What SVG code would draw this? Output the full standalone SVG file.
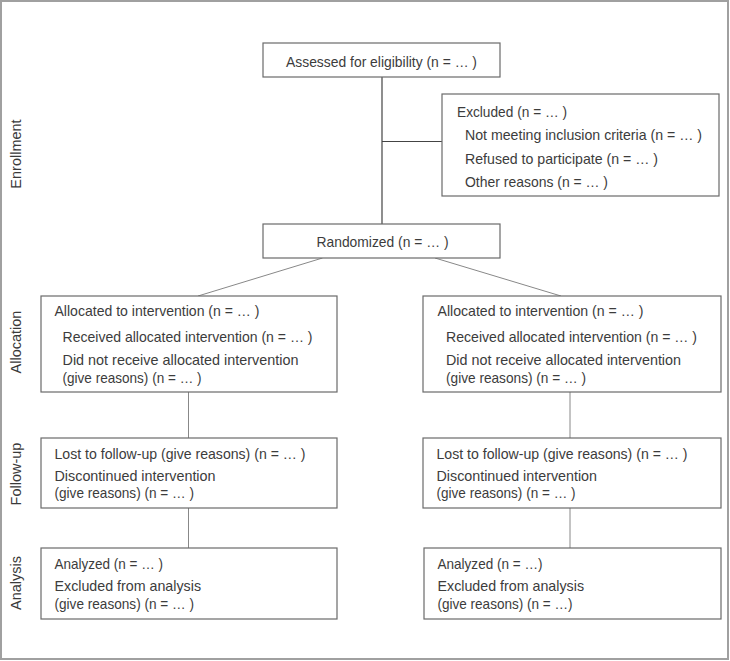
<svg xmlns="http://www.w3.org/2000/svg" width="730" height="661" viewBox="0 0 730 661">
<style>
.bg{fill:#ffffff}
.frame{fill:none;stroke:#a0a0a0;stroke-width:2}
.box{fill:#ffffff;stroke:#6a6a6a;stroke-width:1.2}
.t{font-family:"Liberation Sans",Arial,sans-serif;font-size:15px;fill:#3c3c3c}
.lab{font-family:"Liberation Sans",Arial,sans-serif;font-size:14.5px;fill:#3a3a3a;text-anchor:middle}
.c{fill:none;stroke:#444;stroke-width:1.2}
.c2{fill:none;stroke:#888;stroke-width:1}
</style>
<rect class="bg" x="0" y="0" width="730" height="661"/>
<rect class="frame" x="1" y="1" width="727" height="658"/>

<g id="stage-labels">
<text class="lab" transform="translate(21,154) rotate(-90)">Enrollment</text>
<text class="lab" transform="translate(21,342) rotate(-90)">Allocation</text>
<text class="lab" transform="translate(21,474) rotate(-90)">Follow-up</text>
<text class="lab" transform="translate(21,583) rotate(-90)">Analysis</text>
</g>

<g id="connectors">
<line class="c" x1="382" y1="77" x2="382" y2="224"/>
<line class="c" x1="382" y1="141.5" x2="442" y2="141.5"/>
<line class="c2" x1="322.5" y1="258" x2="198" y2="296"/>
<line class="c2" x1="435" y1="258" x2="561" y2="296"/>
<line class="c2" x1="188.5" y1="392" x2="188.5" y2="438"/>
<line class="c2" x1="570" y1="392" x2="570" y2="438"/>
<line class="c2" x1="188.5" y1="508" x2="188.5" y2="548"/>
<line class="c2" x1="570" y1="508" x2="570" y2="548"/>
</g>

<g id="assessed">
<rect class="box" x="263" y="43" width="237" height="34"/>
<text class="t" x="286" y="66.5" textLength="191" lengthAdjust="spacingAndGlyphs">Assessed for eligibility (n = … )</text>
</g>

<g id="excluded">
<rect class="box" x="442" y="94" width="277" height="102"/>
<text class="t" x="457" y="116.5" textLength="110" lengthAdjust="spacingAndGlyphs">Excluded (n = … )</text>
<text class="t" x="465" y="140" textLength="237" lengthAdjust="spacingAndGlyphs">Not meeting inclusion criteria (n = … )</text>
<text class="t" x="465" y="163.5" textLength="193" lengthAdjust="spacingAndGlyphs">Refused to participate (n = … )</text>
<text class="t" x="465" y="187" textLength="143" lengthAdjust="spacingAndGlyphs">Other reasons (n = … )</text>
</g>

<g id="randomized">
<rect class="box" x="263" y="224" width="237" height="34"/>
<text class="t" x="316.5" y="246.5" textLength="132" lengthAdjust="spacingAndGlyphs">Randomized (n = … )</text>
</g>

<g id="alloc-left">
<rect class="box" x="41" y="296" width="296" height="96"/>
<text class="t" x="54.5" y="316" textLength="205" lengthAdjust="spacingAndGlyphs">Allocated to intervention (n = … )</text>
<text class="t" x="62.5" y="341.5" textLength="250" lengthAdjust="spacingAndGlyphs">Received allocated intervention (n = … )</text>
<text class="t" x="62.5" y="365" textLength="236" lengthAdjust="spacingAndGlyphs">Did not receive allocated intervention</text>
<text class="t" x="62.5" y="382.5" textLength="139" lengthAdjust="spacingAndGlyphs">(give reasons) (n = … )</text>
</g>

<g id="alloc-right">
<rect class="box" x="423" y="296" width="298" height="96"/>
<text class="t" x="437.5" y="316" textLength="206" lengthAdjust="spacingAndGlyphs">Allocated to intervention (n = … )</text>
<text class="t" x="446" y="341.5" textLength="251" lengthAdjust="spacingAndGlyphs">Received allocated intervention (n = … )</text>
<text class="t" x="446" y="365" textLength="235" lengthAdjust="spacingAndGlyphs">Did not receive allocated intervention</text>
<text class="t" x="446" y="382.5" textLength="140" lengthAdjust="spacingAndGlyphs">(give reasons) (n = … )</text>
</g>

<g id="followup-left">
<rect class="box" x="41" y="438" width="296" height="70"/>
<text class="t" x="54.5" y="459" textLength="251" lengthAdjust="spacingAndGlyphs">Lost to follow-up (give reasons) (n = … )</text>
<text class="t" x="54.5" y="480.5" textLength="161" lengthAdjust="spacingAndGlyphs">Discontinued intervention</text>
<text class="t" x="54.5" y="498" textLength="139.5" lengthAdjust="spacingAndGlyphs">(give reasons) (n = … )</text>
</g>

<g id="followup-right">
<rect class="box" x="423" y="438" width="298" height="70"/>
<text class="t" x="436.5" y="459" textLength="251" lengthAdjust="spacingAndGlyphs">Lost to follow-up (give reasons) (n = … )</text>
<text class="t" x="436.5" y="480.5" textLength="160.5" lengthAdjust="spacingAndGlyphs">Discontinued intervention</text>
<text class="t" x="436.5" y="498" textLength="139" lengthAdjust="spacingAndGlyphs">(give reasons) (n = … )</text>
</g>

<g id="analysis-left">
<rect class="box" x="41" y="548" width="296" height="71"/>
<text class="t" x="54.5" y="568.5" textLength="108.5" lengthAdjust="spacingAndGlyphs">Analyzed (n = … )</text>
<text class="t" x="54.5" y="590.5" textLength="146.5" lengthAdjust="spacingAndGlyphs">Excluded from analysis</text>
<text class="t" x="54.5" y="608.5" textLength="139.5" lengthAdjust="spacingAndGlyphs">(give reasons) (n = … )</text>
</g>

<g id="analysis-right">
<rect class="box" x="424" y="548" width="297" height="71"/>
<text class="t" x="437.5" y="568.5" textLength="105" lengthAdjust="spacingAndGlyphs">Analyzed (n = …)</text>
<text class="t" x="437.5" y="590.5" textLength="146.5" lengthAdjust="spacingAndGlyphs">Excluded from analysis</text>
<text class="t" x="437.5" y="608.5" textLength="135" lengthAdjust="spacingAndGlyphs">(give reasons) (n = …)</text>
</g>
</svg>
